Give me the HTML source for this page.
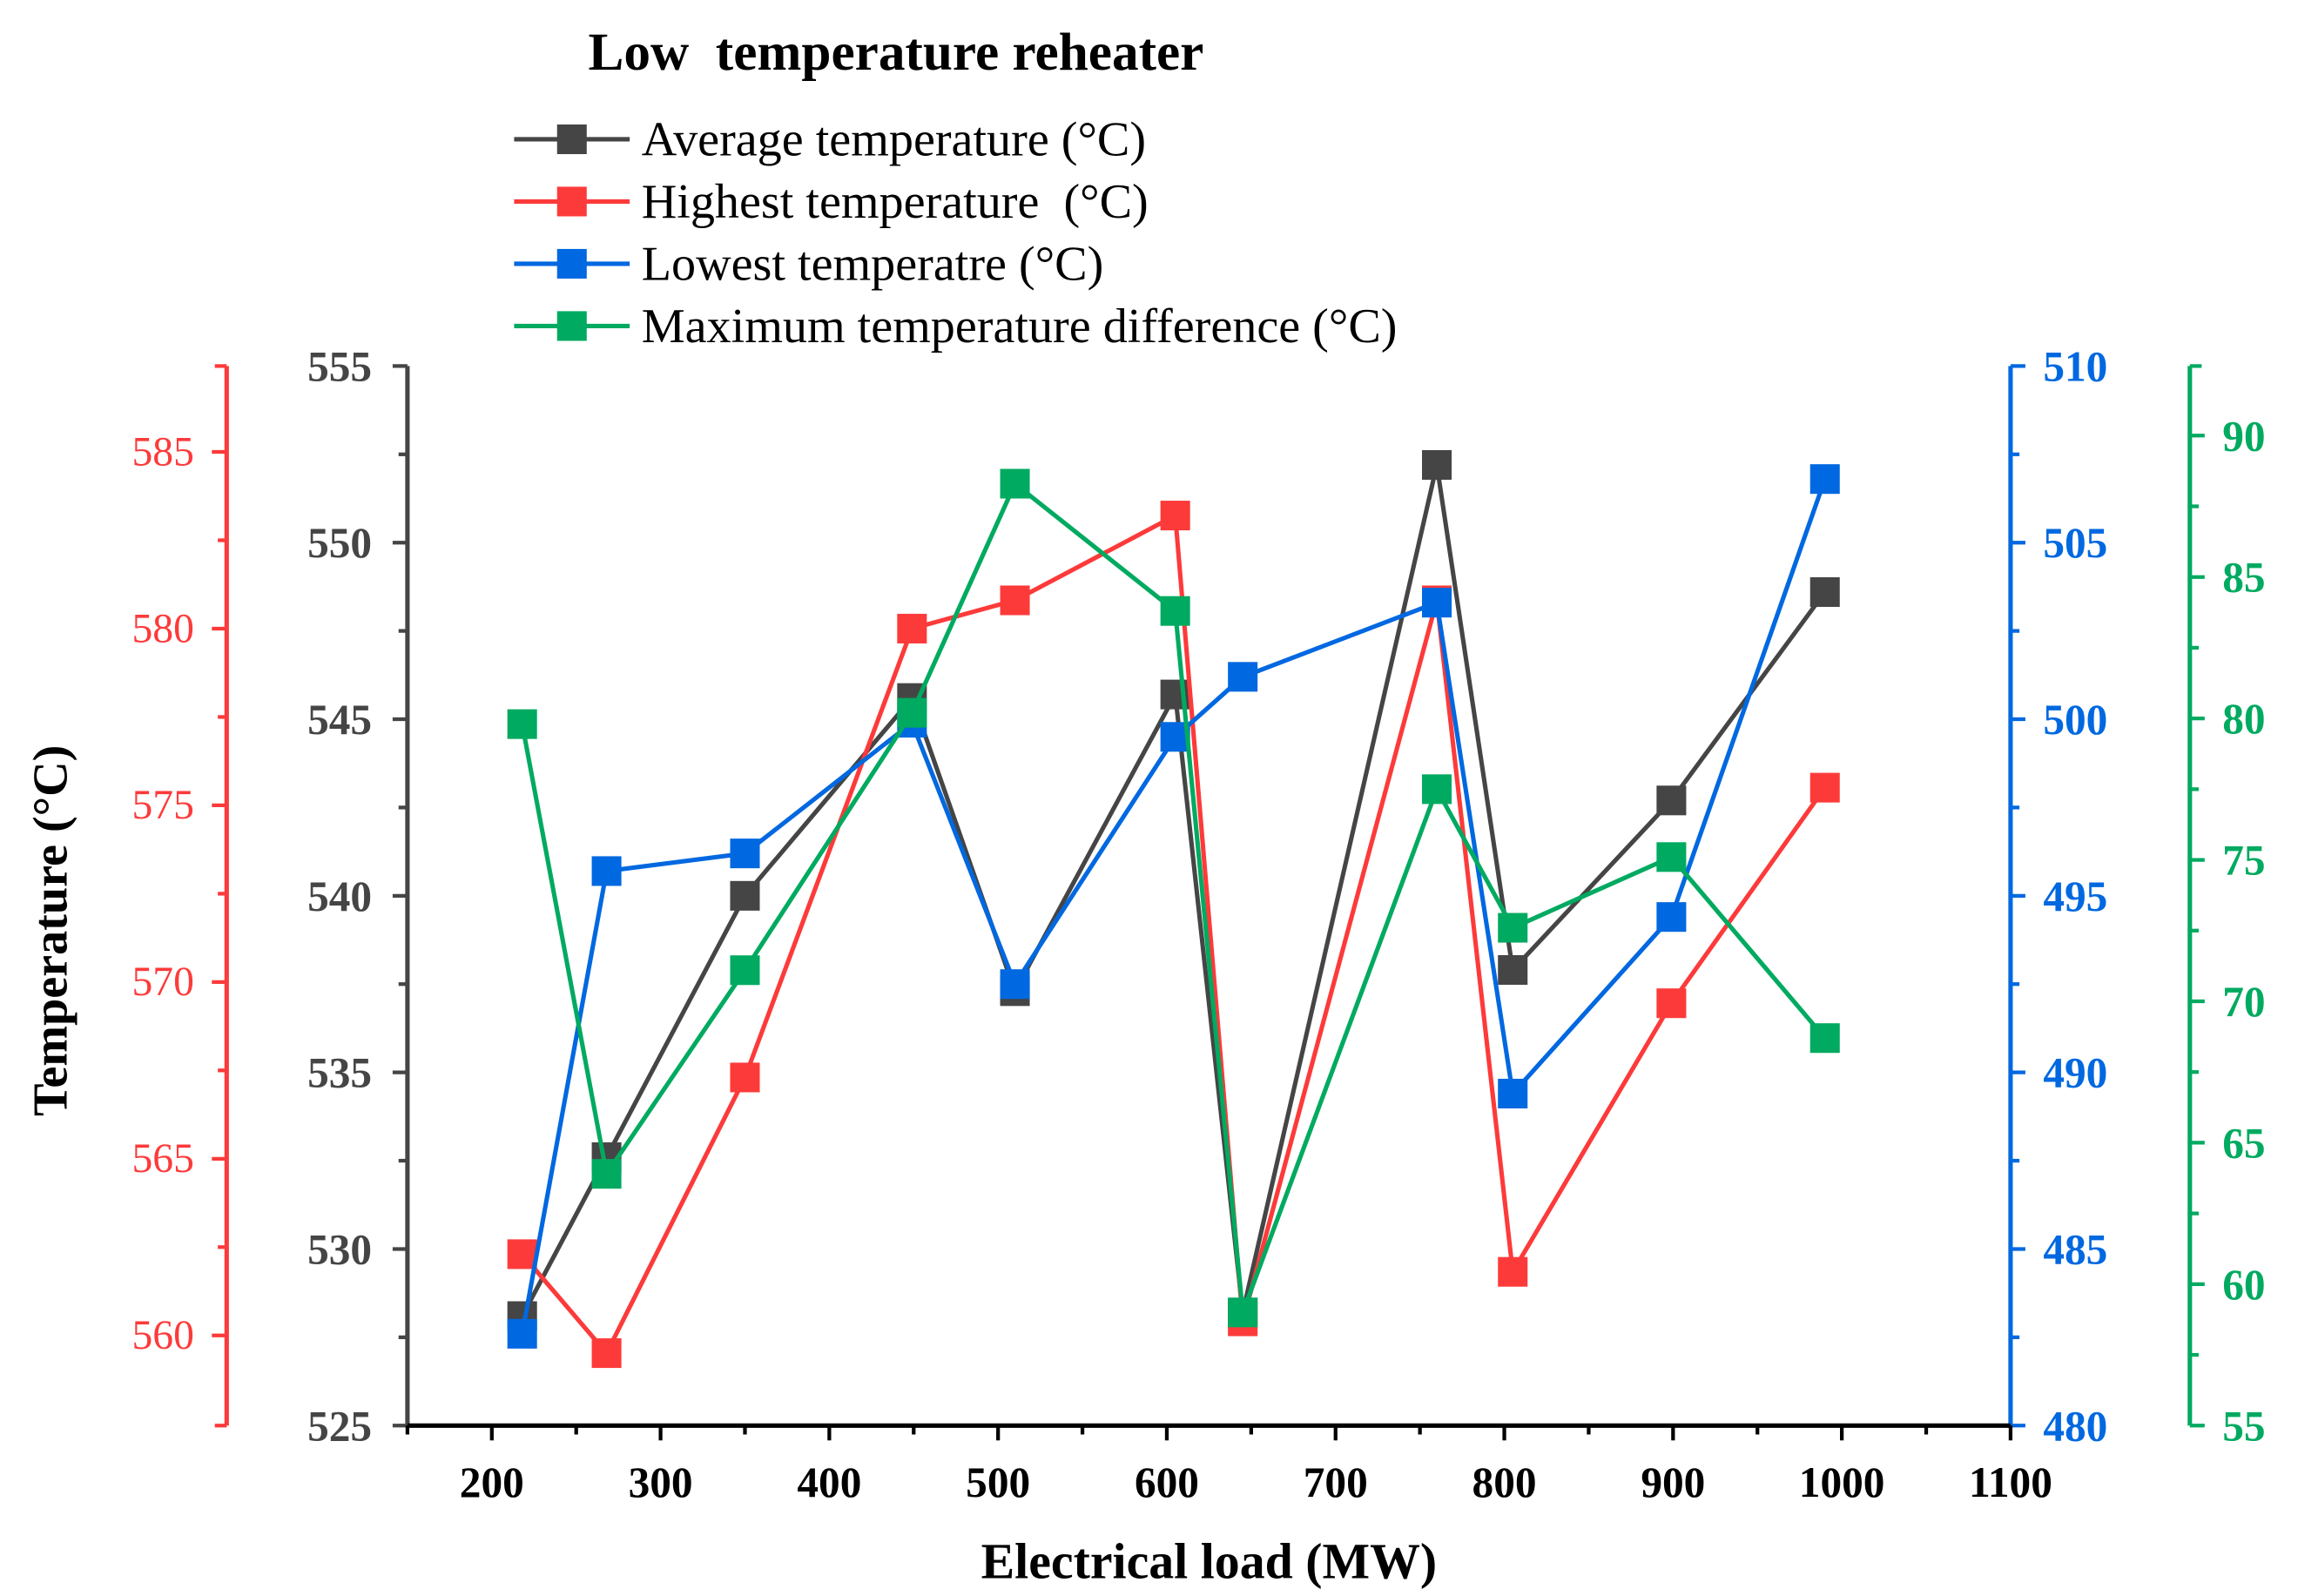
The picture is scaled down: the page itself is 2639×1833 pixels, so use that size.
<!DOCTYPE html>
<html><head><meta charset="utf-8"><style>
html,body{margin:0;padding:0;background:#fff;}
svg{display:block;}
text{font-family:"Liberation Serif",serif;white-space:pre;}
</style></head><body>
<svg id="chart" width="2639" height="1833" viewBox="0 0 1551 1077" preserveAspectRatio="none" xmlns="http://www.w3.org/2000/svg"></svg>
<script>
const loads = [218, 268, 350, 449, 510, 605, 645, 760, 805, 899, 990];
const avgTemp = [528.1, 532.6, 540.0, 545.6, 537.3, 545.7, 528.2, 552.2, 537.9, 542.7, 548.6];
const highTemp = [562.3, 559.5, 567.3, 580.0, 580.8, 583.2, 560.4, 580.8, 561.8, 569.4, 575.5];
const lowTemp = [482.6, 495.7, 496.2, 499.9, 492.5, 499.5, 501.2, 503.3, 489.4, 494.4, 506.8];
const maxDiff = [79.8, 63.9, 71.1, 80.2, 88.3, 83.8, 59.0, 77.5, 72.6, 75.1, 68.7];
const xTicks = [200, 300, 400, 500, 600, 700, 800, 900, 1000, 1100];
const leftTicks = [525, 530, 535, 540, 545, 550, 555];
const redTicks = [560, 565, 570, 575, 580, 585];
const blueTicks = [480, 485, 490, 495, 500, 505, 510];
const greenTicks = [55, 60, 65, 70, 75, 80, 85, 90];

const NS = "http://www.w3.org/2000/svg";
const svg = document.getElementById("chart");
const X0 = 275, X1 = 1357, Y0 = 962, Y1 = 247;
const lin = (d0, d1, r0, r1) => v => r0 + (v - d0) * (r1 - r0) / (d1 - d0);
const xS = lin(150, 1100, X0, X1);
const yL = lin(525, 555, Y0, Y1);
const yR = lin(557.45, 587.43, Y0, Y1);
const yB = lin(480, 510, Y0, Y1);
const yG = lin(55, 92.46, Y0, Y1);
const C = {k:"#454545", r:"#fd3a3a", b:"#0068e0", g:"#00aa60"};

function mk(tag, attrs, parent) {
  const e = document.createElementNS(NS, tag);
  for (const k in attrs) e.setAttribute(k, attrs[k]);
  (parent || svg).appendChild(e);
  return e;
}
function txt(s, attrs, parent) { const t = mk("text", attrs, parent); t.textContent = s; return t; }

let t = txt("Low  temperature reheater", {x:397, y:47, "font-size":36, "font-weight":"bold", fill:"#000"});



const legend = [["Average temperature (°C)", C.k], ["Highest temperature  (°C)", C.r], ["Lowest temperatre (°C)", C.b], ["Maximum temperature difference (°C)", C.g]];
legend.forEach((l, i) => {
  const g = mk("g", {});
  
  
  const y = 94 + i * 42;
  mk("line", {x1:347, x2:425, y1:y, y2:y, stroke:l[1], "stroke-width":3}, g);
  mk("rect", {x:376, y:y - 10, width:20, height:20, fill:l[1]}, g);
  txt(l[0], {x:433, y:y + 11, "font-size":33, fill:"#000"}, g);
});

const la = mk("g", {});


mk("line", {x1:X0, x2:X0, y1:Y1, y2:Y0 + 1.5, stroke:C.k, "stroke-width":3}, la);
leftTicks.forEach((v, i) => {
  const y = yL(v);
  mk("line", {x1:X0 - 10, x2:X0, y1:y, y2:y, stroke:C.k, "stroke-width":2.5}, la);
  if (i < leftTicks.length - 1) { const ym = yL(v + 2.5); mk("line", {x1:X0 - 6, x2:X0, y1:ym, y2:ym, stroke:C.k, "stroke-width":2.5}, la); }
  txt(v, {x:X0 - 24, y:y + 10, "font-size":29, "font-weight":"bold", fill:C.k, "text-anchor":"end"}, la);
});

const ra = mk("g", {});


const RX = 153;
mk("line", {x1:RX, x2:RX, y1:Y1, y2:Y0, stroke:C.r, "stroke-width":3}, ra);
mk("line", {x1:RX - 8, x2:RX, y1:Y1, y2:Y1, stroke:C.r, "stroke-width":2.5}, ra);
mk("line", {x1:RX - 8, x2:RX, y1:Y0, y2:Y0, stroke:C.r, "stroke-width":2.5}, ra);
redTicks.forEach(v => {
  const y = yR(v);
  mk("line", {x1:RX - 10, x2:RX, y1:y, y2:y, stroke:C.r, "stroke-width":2.5}, ra);
  const ym = yR(v + 2.5); if (ym > Y1) mk("line", {x1:RX - 6, x2:RX, y1:ym, y2:ym, stroke:C.r, "stroke-width":2.5}, ra);
  txt(v, {x:RX - 22, y:y + 9, "font-size":28, fill:C.r, "text-anchor":"end"}, ra);
});

const ba = mk("g", {});


mk("line", {x1:X1, x2:X1, y1:Y1, y2:Y0 + 1.5, stroke:C.b, "stroke-width":3}, ba);
blueTicks.forEach((v, i) => {
  const y = yB(v);
  mk("line", {x1:X1, x2:X1 + 10, y1:y, y2:y, stroke:C.b, "stroke-width":2.5}, ba);
  if (i < blueTicks.length - 1) { const ym = yB(v + 2.5); mk("line", {x1:X1, x2:X1 + 6, y1:ym, y2:ym, stroke:C.b, "stroke-width":2.5}, ba); }
  txt(v, {x:X1 + 22, y:y + 10, "font-size":29, "font-weight":"bold", fill:C.b}, ba);
});

const ga = mk("g", {});


const GX = 1478;
mk("line", {x1:GX, x2:GX, y1:Y1, y2:Y0, stroke:C.g, "stroke-width":3}, ga);
mk("line", {x1:GX, x2:GX + 8, y1:Y1, y2:Y1, stroke:C.g, "stroke-width":2.5}, ga);
greenTicks.forEach(v => {
  const y = yG(v);
  mk("line", {x1:GX, x2:GX + 10, y1:y, y2:y, stroke:C.g, "stroke-width":2.5}, ga);
  const ym = yG(v + 2.5); if (ym > Y1) mk("line", {x1:GX, x2:GX + 6, y1:ym, y2:ym, stroke:C.g, "stroke-width":2.5}, ga);
  txt(v, {x:GX + 22, y:y + 10, "font-size":29, "font-weight":"bold", fill:C.g}, ga);
});

const xa = mk("g", {});


mk("line", {x1:X0, x2:X1, y1:Y0, y2:Y0, stroke:"#000", "stroke-width":3}, xa);
xTicks.forEach(v => {
  const x = xS(v);
  mk("line", {x1:x, x2:x, y1:Y0, y2:Y0 + 10, stroke:"#000", "stroke-width":2.5}, xa);
  const xm = xS(v - 50); mk("line", {x1:xm, x2:xm, y1:Y0, y2:Y0 + 6, stroke:"#000", "stroke-width":2.5}, xa);
  txt(v, {x:x, y:Y0 + 48, "font-size":29, "font-weight":"bold", fill:"#000", "text-anchor":"middle"}, xa);
});

t = txt("Electrical load (MW)", {x:816, y:1065, "font-size":34, "font-weight":"bold", fill:"#000", "text-anchor":"middle"});


t = txt("Temperature (°C)", {x:0, y:0, "font-size":33, "font-weight":"bold", fill:"#000", "text-anchor":"middle", transform:"translate(45,628) rotate(-90)"});



[["average", avgTemp, yL, C.k], ["red", highTemp, yR, C.r], ["blue", lowTemp, yB, C.b], ["green", maxDiff, yG, C.g]].forEach(s => {
  const g = mk("g", {});
  
  
  const pts = loads.map((x, i) => xS(x) + "," + s[2](s[1][i])).join(" ");
  mk("polyline", {points:pts, fill:"none", stroke:s[3], "stroke-width":3}, g);
  loads.forEach((x, i) => {
    const r = mk("rect", {x:xS(x) - 10, y:s[2](s[1][i]) - 10, width:20, height:20, fill:s[3]}, g);
    
    
  });
});
</script>
</body></html>
